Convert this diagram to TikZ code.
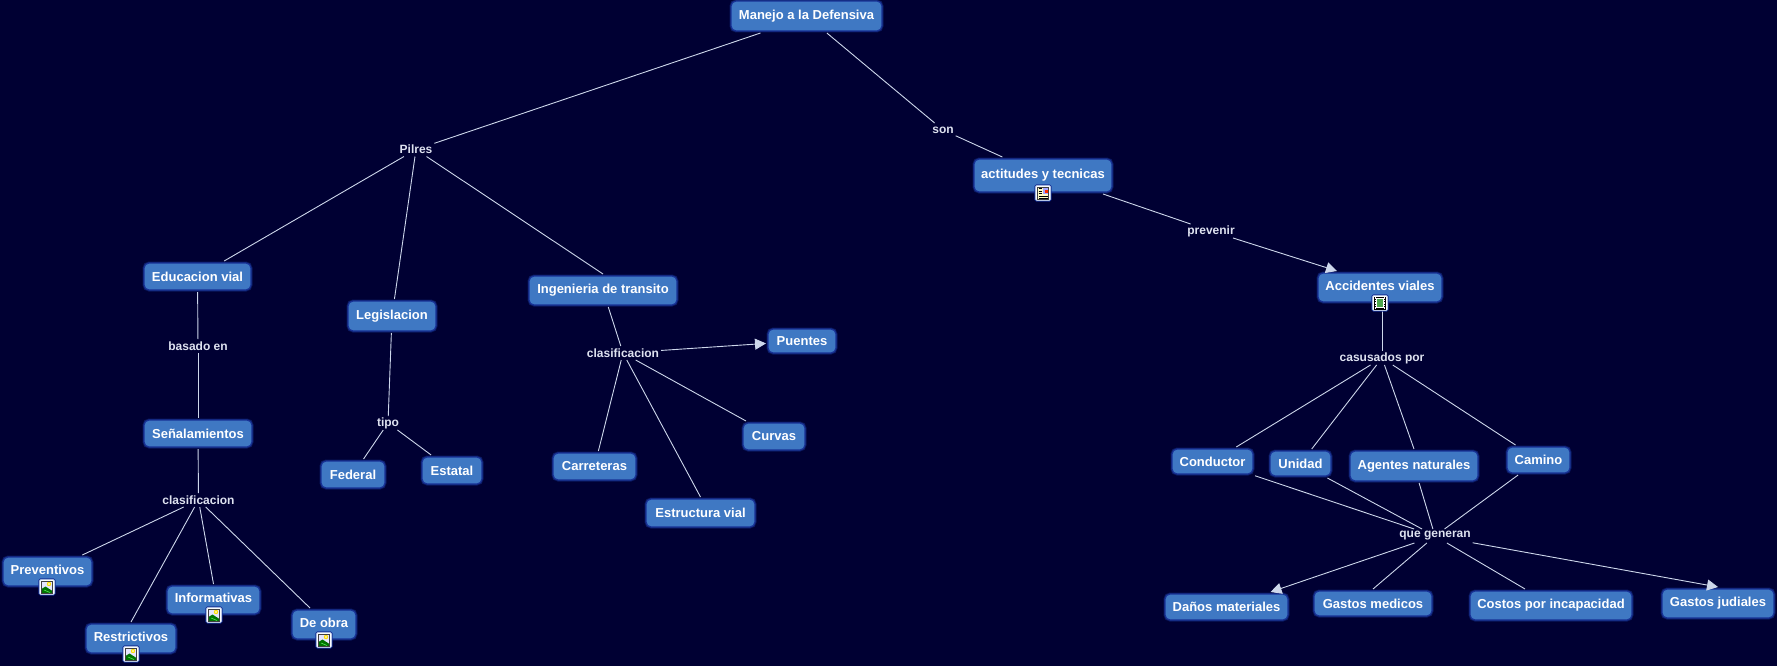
\documentclass[tikz,border=0pt]{standalone}
\usepackage{fontspec}
\setmainfont{Liberation Sans}
\usetikzlibrary{arrows.meta}
\definecolor{bgc}{RGB}{0,0,51}
\definecolor{boxc}{RGB}{63,120,195}
\definecolor{edgec}{RGB}{24,50,150}
\definecolor{glowc}{RGB}{10,24,95}
\definecolor{linec}{RGB}{205,215,235}
\definecolor{labelc}{RGB}{222,226,240}
\definecolor{framec}{RGB}{225,238,252}
\tikzset{
  concept/.style={draw=edgec,line width=1.2pt,fill=boxc,rounded corners=5pt,text=white,
    font=\fontsize{13}{15}\selectfont\bfseries,inner sep=0pt,outer sep=2pt,
    preaction={draw=glowc,line width=3pt}},
  raisedtext/.style={text height=9.4pt,text depth=3.5pt},
  linking/.style={text=labelc,font=\fontsize{12}{14}\selectfont\bfseries,inner xsep=2pt,inner ysep=0pt,
    minimum height=14pt,outer sep=0pt},
  link/.style={draw=linec,line width=0.9pt},
  arrowlink/.style={link,-{Triangle[length=11pt,width=11pt,fill=linec]}},
  iconframe/.style={draw=framec,fill=white,line width=0.9pt,inner sep=0pt,minimum size=14.5pt,outer sep=0pt,
    rounded corners=1pt,preaction={draw=edgec,line width=2.6pt}},
}
\newcommand{\cbox}[6][]{%
  \pgfmathsetmacro{\cxx}{(#3+#5)/2}\pgfmathsetmacro{\cyy}{(#4+#6)/2}%
  \pgfmathsetmacro{\cww}{#5-#3}\pgfmathsetmacro{\chh}{#6-#4}%
  \cboxtext{#1}{#2}}
\newcommand{\cboxtext}[3]{\node[concept,#1,minimum width=\cww pt,minimum height=\chh pt] (#2) at (\cxx,\cyy) {#3};}
\newcommand{\imgicon}[3]{%
  \node[iconframe] (#1) at (#2,#3) {};
  \fill[blue!10] (#2-5.5,#3-6) rectangle (#2+5.5,#3+6);
  \fill[yellow!80!orange] (#2+2,#3-3) circle (2.2);
  \fill[yellow!30] (#2+2,#3-3) circle (1.1);
  \fill[green!45!black] (#2-5.5,#3+6) -- (#2-5.5,#3+2) -- (#2-1.5,#3-0.5) -- (#2+5.5,#3+4) -- (#2+5.5,#3+6) -- cycle;
  \draw[green!60!white,line width=0.5pt] (#2-3,#3+3) -- (#2+3,#3+5.5);
  \draw[black!75,line width=0.5pt] (#2-5.5,#3-6) rectangle (#2+5.5,#3+6);}
\newcommand{\docicon}[3]{%
  \node[iconframe] (#1) at (#2,#3) {};
  \fill[yellow!22] (#2-5.5,#3-6) rectangle (#2+5.5,#3+6);
  \draw[black,line width=0.8pt] (#2-4.5,#3-4.5)--(#2-1,#3-4.5) (#2-4.5,#3-2)--(#2-1,#3-2) (#2-4.5,#3+0.5)--(#2-1,#3+0.5) (#2-4.5,#3+3)--(#2+4.5,#3+3) (#2-4.5,#3+5)--(#2+4.5,#3+5);
  \fill[blue!35] (#2+0.3,#3-5.5) rectangle (#2+5,#3+0.8);
  \fill[red!65!orange] (#2+2.2,#3-3) rectangle (#2+5,#3-0.5);
  \draw[black!75,line width=0.5pt] (#2-5.5,#3-6) rectangle (#2+5.5,#3+6);}
\newcommand{\filmicon}[3]{%
  \node[iconframe] (#1) at (#2,#3) {};
  \fill[black] (#2-6,#3-6.5) rectangle (#2+6,#3+6.5);
  \fill[white] (#2-3.8,#3-5) rectangle (#2+3.8,#3+5);
  \fill[green!50!black!70!white] (#2-3.2,#3-4.3) rectangle (#2+3.2,#3+4.3);
  \foreach \k in {-5,-2.5,0,2.5,5}{\fill[white] (#2-5.4,#3+\k-0.6) rectangle (#2-4.4,#3+\k+0.6);
    \fill[white] (#2+4.4,#3+\k-0.6) rectangle (#2+5.4,#3+\k+0.6);}}
\begin{document}
\begin{tikzpicture}[x=1pt,y=-1pt]
\useasboundingbox[fill=bgc] (0,0) rectangle (1777,666);
% concept nodes
\cbox{manejo}{731}{1}{882}{31}{Manejo a la Defensiva}
\cbox[raisedtext]{actitudes}{974}{159}{1112}{192}{actitudes y tecnicas}
\cbox[raisedtext]{accidentes}{1318}{273}{1442}{302}{Accidentes viales}
\cbox{educacion}{144}{263}{251}{290}{Educacion vial}
\cbox{legislacion}{348}{301}{436}{331}{Legislacion}
\cbox{ingenieria}{529}{276}{677}{305}{Ingenieria de transito}
\cbox{senal}{144}{420}{252}{447}{Señalamientos}
\cbox{puentes}{768}{329}{836}{353}{Puentes}
\cbox{federal}{321}{461}{385}{488}{Federal}
\cbox{estatal}{422}{457}{482}{484}{Estatal}
\cbox{carreteras}{553}{453}{636}{480}{Carreteras}
\cbox{curvas}{743}{423}{805}{450}{Curvas}
\cbox{estructura}{646}{499}{755}{527}{Estructura vial}
\cbox[raisedtext]{preventivos}{3}{557}{92}{586}{Preventivos}
\cbox[raisedtext]{restrictivos}{86}{624}{176}{653}{Restrictivos}
\cbox[raisedtext]{informativas}{167}{586}{260}{614}{Informativas}
\cbox[raisedtext]{deobra}{292}{610}{356}{639}{De obra}
\cbox{conductor}{1172}{449}{1253}{474}{Conductor}
\cbox{unidad}{1270}{451}{1331}{476}{Unidad}
\cbox{agentes}{1350}{451}{1478}{481}{Agentes naturales}
\cbox{camino}{1507}{447}{1570}{473}{Camino}
\cbox{danos}{1165}{594}{1288}{620}{Daños materiales}
\cbox{medicos}{1314}{591}{1432}{616}{Gastos medicos}
\cbox{costos}{1470}{591}{1632}{620}{Costos por incapacidad}
\cbox{judiales}{1662}{589}{1774}{618}{Gastos judiales}
% linking phrases
\node[linking] (pilres) at (416,149.5) {Pilres};
\node[linking] (son) at (943,130) {son};
\node[linking] (prevenir) at (1211,231) {prevenir};
\node[linking] (basado) at (198,346) {basado en};
\node[linking] (clasa) at (198.5,500) {clasificacion};
\node[linking] (tipo) at (388,423) {tipo};
\node[linking] (clasb) at (623,353) {clasificacion};
\node[linking] (causados) at (1382,358) {casusados por};
\node[linking] (generan) at (1435,536) {que generan};
% connectors
\foreach \a/\b in {manejo/son,son/actitudes,pilres/educacion,pilres/legislacion,
  educacion/basado,basado/senal,senal/clasa,clasa/preventivos,
  legislacion/tipo,tipo/federal,tipo/estatal,ingenieria/clasb,clasb/carreteras,clasb/curvas,
  causados/conductor,causados/unidad,causados/camino,
  conductor/generan,unidad/generan,agentes/generan,camino/generan}
  {\draw[link] (\a) -- (\b);}
\draw[link] (causados) -- (agentes.north);
\draw[link] ([xshift=-46pt]manejo.south) -- (pilres);
\draw[link] ([xshift=60pt]actitudes.south) -- (prevenir);
\draw[link] (pilres) -- (ingenieria.north);
\draw[link] (clasa) -- (restrictivos.north);
\draw[link] (clasa) -- (informativas.north);
\draw[link] ([xshift=-14pt]deobra.north) -- (clasa);
\draw[link] (clasb) -- (estructura.north);
\draw[link] ([xshift=2pt]accidentes.south) -- (causados);
\draw[link] (generan) -- (medicos.north);
\draw[link] (generan) -- ([xshift=-26pt]costos.north);
\draw[arrowlink] (prevenir) -- ([xshift=-43pt]accidentes.north);
\draw[arrowlink] (clasb) -- (puentes);
\draw[arrowlink] (generan) -- (danos);
\draw[arrowlink] (generan) -- (judiales.north);
% icons
\imgicon{iconp}{47}{587}
\imgicon{iconr}{131}{654}
\imgicon{iconi}{214}{615}
\imgicon{icond}{324}{640}
\docicon{icona}{1043}{193}
\filmicon{iconv}{1380}{303}
\end{tikzpicture}
\end{document}
